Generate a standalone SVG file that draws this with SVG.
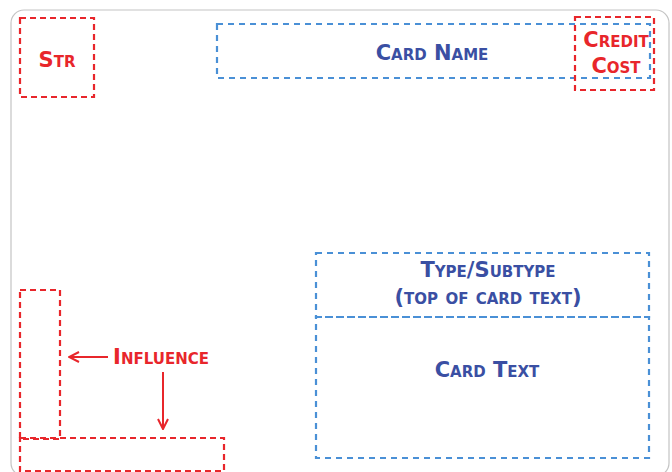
<svg xmlns="http://www.w3.org/2000/svg" width="672" height="472" viewBox="0 0 672 472">
<defs>
<style>
.card{fill:#fff;stroke:#c4c4c4;stroke-width:1.2}
.rbox{fill:none;stroke:#e8262b;stroke-width:2.2;stroke-dasharray:6 4}
.bbox{fill:none;stroke:#4a90d6;stroke-width:2.2;stroke-dasharray:6 5}
.rt{fill:#e8262b;font-family:"DejaVu Sans","Liberation Sans",sans-serif;font-weight:bold;font-variant:small-caps;font-size:21px;text-anchor:middle}
.bt{fill:#3a4fa3;font-family:"DejaVu Sans","Liberation Sans",sans-serif;font-weight:bold;font-variant:small-caps;font-size:21px;text-anchor:middle}
.arr{stroke:#e8262b;stroke-width:2;fill:none}
</style>
<marker id="ah" viewBox="0 0 12 12" refX="11" refY="6" markerWidth="12" markerHeight="12" orient="auto" markerUnits="userSpaceOnUse">
<path d="M1,1 L11,6 L1,11" fill="none" stroke="#e8262b" stroke-width="2"/>
</marker>
</defs>
<rect width="672" height="472" fill="#fff"/>
<rect class="card" x="11" y="10" width="658" height="466" rx="13"/>
<g id="str">
<rect class="rbox" x="20" y="18" width="74" height="79"/>
<text class="rt" x="57" y="67">Str</text>
</g>
<g id="card-name">
<rect class="bbox" x="217" y="24" width="433" height="54"/>
<text class="bt" x="432" y="60">Card Name</text>
</g>
<g id="credit-cost">
<rect class="rbox" x="575" y="17" width="79" height="73"/>
<text class="rt" x="616" y="47">Credit</text>
<text class="rt" x="616" y="73">Cost</text>
</g>
<g id="type-subtype">
<rect class="bbox" x="316" y="253" width="333" height="64"/>
<text class="bt" x="488" y="277">Type/Subtype</text>
<text class="bt" x="488" y="304">(top of card text)</text>
</g>
<g id="card-text">
<rect class="bbox" x="316" y="317" width="333" height="141"/>
<text class="bt" x="487" y="377">Card Text</text>
</g>
<g id="influence">
<rect class="rbox" x="20" y="290" width="40" height="149"/>
<rect class="rbox" x="20" y="438" width="204" height="33"/>
<text class="rt" x="161" y="364">Influence</text>
</g>
<g id="connectors">
<line class="arr" x1="108" y1="357" x2="69" y2="357" marker-end="url(#ah)"/>
<line class="arr" x1="163" y1="372" x2="163" y2="429" marker-end="url(#ah)"/>
</g>
</svg>
